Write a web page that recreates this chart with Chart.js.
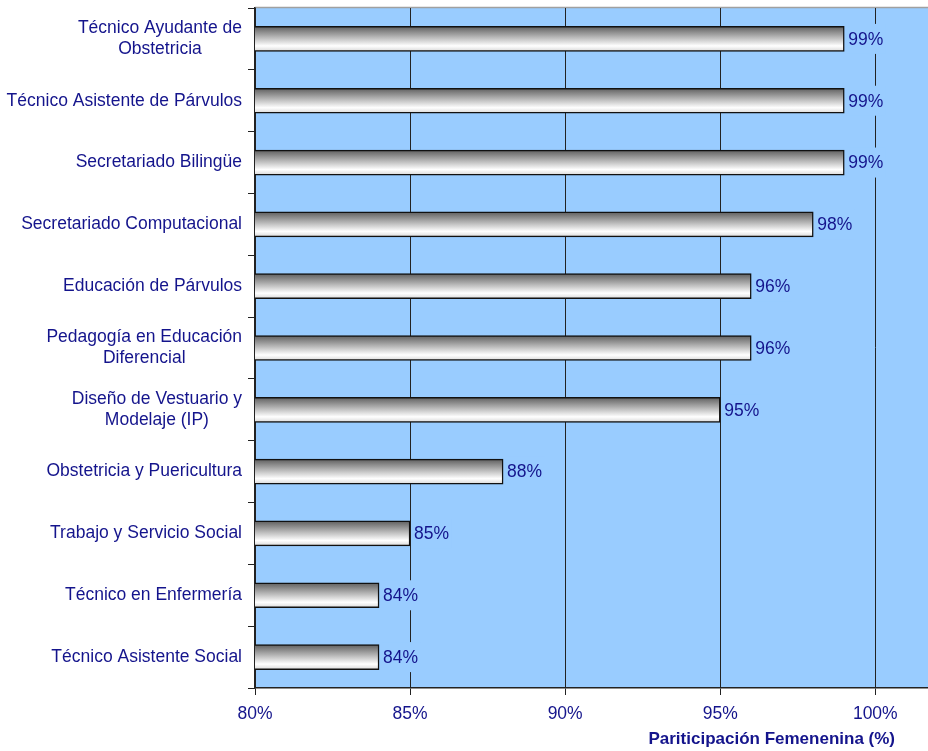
<!DOCTYPE html>
<html>
<head>
<meta charset="utf-8">
<script src="https://cdn.jsdelivr.net/npm/chart.js@4.4.1/dist/chart.umd.min.js"></script>
<style>
  html, body { margin: 0; padding: 0; background: #ffffff; }
  #wrap { width: 928px; height: 751px; }
</style>
</head>
<body>
<div id="wrap"><canvas id="chart" width="928" height="751"></canvas></div>
<script>
// ------------------- Datos -------------------
const carreras = [
    ['Técnico Ayudante de', 'Obstetricia'],
    ['Técnico Asistente de Párvulos'],
    ['Secretariado Bilingüe'],
    ['Secretariado Computacional'],
    ['Educación de Párvulos'],
    ['Pedagogía en Educación', 'Diferencial'],
    ['Diseño de Vestuario y', 'Modelaje (IP)'],
    ['Obstetricia y Puericultura'],
    ['Trabajo y Servicio Social'],
    ['Técnico en Enfermería'],
    ['Técnico Asistente Social']
];
const participacion = [99, 99, 99, 98, 96, 96, 95, 88, 85, 84, 84];
const ticksX = [80, 85, 90, 95, 100];
const tituloX = 'Pariticipación Femenenina (%)';

// ------------------- Estilos -------------------
const AZUL_TEXTO = '#14148c';
const FONDO = '#99ccff';
const FUENTE = '"Liberation Sans", Arial, sans-serif';

// fondo del área del gráfico + línea superior
const fondoPlugin = {
    id: 'fondo',
    beforeDraw(chart) {
        const { ctx, chartArea: a } = chart;
        ctx.save();
        ctx.fillStyle = FONDO;
        ctx.fillRect(a.left, a.top, a.right - a.left, a.bottom - a.top);
        ctx.strokeStyle = '#a0a0a0';
        ctx.lineWidth = 1.5;
        ctx.beginPath();
        ctx.moveTo(a.left, a.top - 0.5);
        ctx.lineTo(a.right, a.top - 0.5);
        ctx.stroke();
        ctx.restore();
    }
};

// etiquetas de categorías (centradas entre líneas, alineadas a la derecha)
const etiquetasPlugin = {
    id: 'etiquetas',
    afterDraw(chart) {
        const { ctx } = chart;
        const y = chart.scales.y;
        ctx.save();
        ctx.fillStyle = AZUL_TEXTO;
        ctx.font = '17.5px ' + FUENTE;
        ctx.textAlign = 'center';
        ctx.textBaseline = 'middle';
        const right = 242, lh = 21;
        carreras.forEach((lines, i) => {
            const cy = y.getPixelForValue(i);
            const w = Math.max(...lines.map(l => ctx.measureText(l).width));
            const cx = right - w / 2;
            const y0 = cy - (lines.length - 1) * lh / 2;
            lines.forEach((l, k) => ctx.fillText(l, cx, y0 + k * lh));
        });

        // valores al final de cada barra
        const meta = chart.getDatasetMeta(0);
        meta.data.forEach((bar, i) => {
            const txt = participacion[i] + '%';
            const w = ctx.measureText(txt).width;
            ctx.fillStyle = FONDO;
            ctx.fillRect(bar.x + 2, bar.y - 15, w + 4, 30);
            ctx.fillStyle = AZUL_TEXTO;
            ctx.textAlign = 'left';
            ctx.fillText(txt, bar.x + 4, bar.y + 1);
        });

        // título del eje X
        ctx.font = 'bold 17px ' + FUENTE;
        ctx.textAlign = 'right';
        ctx.fillText(tituloX, 895, 739);
        ctx.restore();
    }
};

function degradado(context) {
    const chart = context.chart;
    const y = chart.scales.y;
    if (!y || !chart.chartArea) return '#cccccc';
    const cy = y.getPixelForValue(context.dataIndex);
    const g = chart.ctx.createLinearGradient(0, cy - 12.5, 0, cy + 12.5);
    g.addColorStop(0, '#5e5e5e');
    g.addColorStop(0.78, '#ffffff');
    g.addColorStop(1, '#d8d8d8');
    return g;
}

new Chart(document.getElementById('chart'), {
    type: 'bar',
    data: {
        labels: carreras,
        datasets: [{
            data: participacion,
            backgroundColor: degradado,
            borderColor: '#111111',
            borderWidth: 1.5,
            borderSkipped: false,
            barThickness: 25
        }]
    },
    options: {
        indexAxis: 'y',
        responsive: false,
        animation: false,
        layout: { padding: { top: 8, right: 0, left: 0, bottom: 0 } },
        plugins: { legend: { display: false }, tooltip: { enabled: false } },
        scales: {
            x: {
                min: 80,
                max: 101.7,
                afterBuildTicks: s => { s.ticks = ticksX.map(v => ({ value: v })); },
                afterFit: s => { s.height = 63; },
                ticks: {
                    callback: v => v + '%',
                    color: AZUL_TEXTO,
                    font: { family: FUENTE, size: 17.5 },
                    padding: 9,
                    maxRotation: 0
                },
                grid: { color: '#222222', lineWidth: 1, tickLength: 7, drawTicks: true },
                border: { display: true, color: '#222222', width: 1.5 }
            },
            y: {
                afterFit: s => { s.width = 255; },
                ticks: { display: false },
                grid: { offset: true, drawOnChartArea: false, color: '#222222', tickLength: 7 },
                border: { display: true, color: '#222222', width: 1.5 }
            }
        }
    },
    plugins: [fondoPlugin, etiquetasPlugin]
});
</script>
</body>
</html>
